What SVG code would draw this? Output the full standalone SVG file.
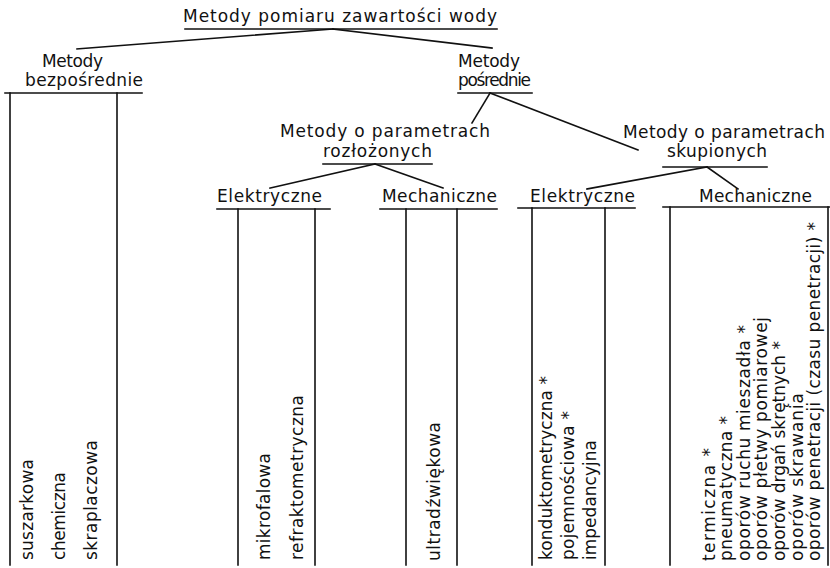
<svg xmlns="http://www.w3.org/2000/svg" width="830" height="568" viewBox="0 0 830 568">
<style>
text{font-family:"DejaVu Sans","Liberation Sans",sans-serif;font-size:17px;fill:#111;}
line{stroke:#111;stroke-width:1.6;stroke-linecap:square;}
</style>
<rect width="830" height="568" fill="#fff"/>
<g id="connectors">
<line x1="333" y1="29" x2="77" y2="49"/>
<line x1="333" y1="29" x2="492" y2="48"/>
<line x1="490" y1="93" x2="472" y2="123"/>
<line x1="490" y1="93" x2="638" y2="150"/>
<line x1="375" y1="164" x2="270" y2="188"/>
<line x1="375" y1="164" x2="443" y2="188"/>
<line x1="707" y1="167" x2="587" y2="189"/>
<line x1="707" y1="167" x2="738" y2="189"/>
</g>
<g id="root">
<text x="183" y="22" textLength="314" lengthAdjust="spacing">Metody pomiaru zawartości wody</text>
<line x1="185" y1="29" x2="497" y2="29"/>
</g>
<g id="bezposrednie">
<text x="42" y="67" textLength="61" lengthAdjust="spacing">Metody</text>
<text x="25" y="86" textLength="118" lengthAdjust="spacing">bezpośrednie</text>
<line x1="5" y1="93" x2="142" y2="93"/>
<line x1="10" y1="93" x2="10" y2="565"/>
<line x1="117" y1="93" x2="117" y2="565"/>
</g>
<g id="posrednie">
<text x="458" y="67" textLength="62" lengthAdjust="spacing">Metody</text>
<text x="458" y="86" textLength="73" lengthAdjust="spacing">pośrednie</text>
<line x1="458" y1="93" x2="532" y2="93"/>
</g>
<g id="rozlozone">
<text x="280" y="137" textLength="210" lengthAdjust="spacing">Metody o parametrach</text>
<text x="323" y="157" textLength="109" lengthAdjust="spacing">rozłożonych</text>
<line x1="323" y1="164" x2="432" y2="164"/>
</g>
<g id="skupione">
<text x="623" y="138" textLength="202" lengthAdjust="spacing">Metody o parametrach</text>
<text x="667" y="157" textLength="100" lengthAdjust="spacing">skupionych</text>
<line x1="663" y1="167" x2="767" y2="167"/>
</g>
<g id="elektryczne1">
<text x="217" y="202" textLength="105" lengthAdjust="spacing">Elektryczne</text>
<line x1="217" y1="209" x2="330" y2="209"/>
<line x1="238" y1="209" x2="238" y2="565"/>
<line x1="315" y1="209" x2="315" y2="565"/>
</g>
<g id="mechaniczne1">
<text x="382" y="202" textLength="115" lengthAdjust="spacing">Mechaniczne</text>
<line x1="380" y1="209" x2="497" y2="209"/>
<line x1="406" y1="209" x2="406" y2="565"/>
<line x1="457" y1="209" x2="457" y2="565"/>
</g>
<g id="elektryczne2">
<text x="530" y="202" textLength="105" lengthAdjust="spacing">Elektryczne</text>
<line x1="518" y1="208" x2="635" y2="208"/>
<line x1="532" y1="208" x2="532" y2="565"/>
<line x1="605" y1="208" x2="605" y2="565"/>
</g>
<g id="mechaniczne2">
<text x="699" y="202" textLength="113" lengthAdjust="spacing">Mechaniczne</text>
<line x1="663" y1="207" x2="830" y2="207"/>
<line x1="670" y1="207" x2="670" y2="565"/>
<line x1="828" y1="207" x2="828" y2="565"/>
</g>
<g id="leaf-suszarkowa"><text transform="translate(33,560) rotate(-90)" textLength="101" lengthAdjust="spacing">suszarkowa</text></g>
<g id="leaf-chemiczna"><text transform="translate(65,560) rotate(-90)" textLength="88" lengthAdjust="spacing">chemiczna</text></g>
<g id="leaf-skraplaczowa"><text transform="translate(97,560) rotate(-90)" textLength="120" lengthAdjust="spacing">skraplaczowa</text></g>
<g id="leaf-mikrofalowa"><text transform="translate(270,560) rotate(-90)" textLength="107" lengthAdjust="spacing">mikrofalowa</text></g>
<g id="leaf-refraktometryczna"><text transform="translate(303,560) rotate(-90)" textLength="165" lengthAdjust="spacing">refraktometryczna</text></g>
<g id="leaf-ultradzwiekowa"><text transform="translate(440,561) rotate(-90)" textLength="139" lengthAdjust="spacing">ultradźwiękowa</text></g>
<g id="leaf-konduktometryczna"><text transform="translate(552,560) rotate(-90)" textLength="184" lengthAdjust="spacing">konduktometryczna *</text></g>
<g id="leaf-pojemnosciowa"><text transform="translate(574,560) rotate(-90)" textLength="149" lengthAdjust="spacing">pojemnościowa *</text></g>
<g id="leaf-impedancyjna"><text transform="translate(596,560) rotate(-90)" textLength="120" lengthAdjust="spacing">impedancyjna</text></g>
<g id="leaf-termiczna"><text transform="translate(715,561) rotate(-90)" textLength="113" lengthAdjust="spacing">termiczna *</text></g>
<g id="leaf-pneumatyczna"><text transform="translate(732,561) rotate(-90)" textLength="145" lengthAdjust="spacing">pneumatyczna *</text></g>
<g id="leaf-mieszadla"><text transform="translate(750,561) rotate(-90)" textLength="236" lengthAdjust="spacing">oporów ruchu mieszadła *</text></g>
<g id="leaf-pletwy"><text transform="translate(767,561) rotate(-90)" textLength="244" lengthAdjust="spacing">oporów płetwy pomiarowej</text></g>
<g id="leaf-drgan"><text transform="translate(785,561) rotate(-90)" textLength="220" lengthAdjust="spacing">oporów drgań skrętnych *</text></g>
<g id="leaf-skrawania"><text transform="translate(803,561) rotate(-90)" textLength="168" lengthAdjust="spacing">oporów skrawania</text></g>
<g id="leaf-penetracji"><text transform="translate(820,561) rotate(-90)" textLength="339" lengthAdjust="spacing">oporów penetracji (czasu penetracji) *</text></g>
</svg>
